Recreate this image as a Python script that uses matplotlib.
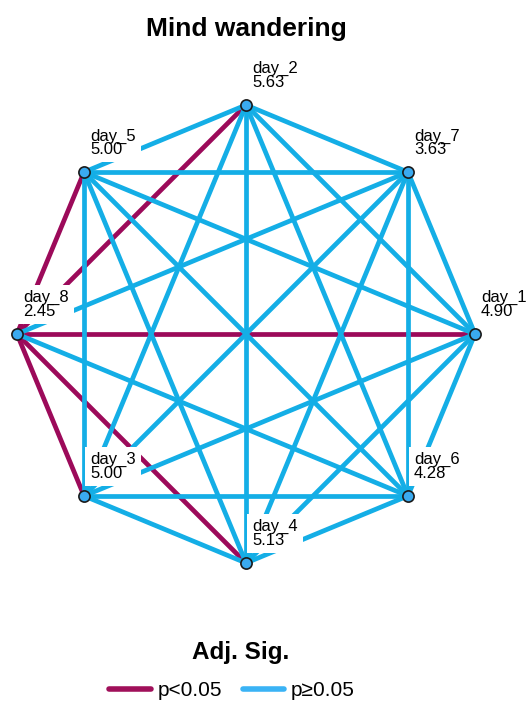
import numpy as np
import matplotlib
matplotlib.use("Agg")
import matplotlib.pyplot as plt
from matplotlib.lines import Line2D

plt.rcParams['font.family'] = ['Liberation Sans', 'DejaVu Sans']

# ----------------------------------------------------------
# Data
# ----------------------------------------------------------
days = ["day_2", "day_7", "day_1", "day_6", "day_4", "day_3", "day_8", "day_5"]
means = [5.63, 3.63, 4.90, 4.28, 5.13, 5.00, 2.45, 5.00]
sig_pairs = [("day_2", "day_8"), ("day_5", "day_8"), ("day_8", "day_1"),
             ("day_8", "day_3"), ("day_8", "day_4")]

RED = "#9C0A5A"
BLUE = "#14AEE6"

# ----------------------------------------------------------
# Layout: nodes on a regular octagon, day_2 at the top
# ----------------------------------------------------------
W, H = 529, 705
fig = plt.figure(figsize=(W / 100, H / 100), dpi=100)

cx, cy, r = 246, 334, 229
lim = 1.2
ax = fig.add_axes([(cx - lim * r) / W, 1 - (cy + lim * r) / H,
                   2 * lim * r / W, 2 * lim * r / H])
ax.set_xlim(-lim, lim)
ax.set_ylim(-lim, lim)
ax.axis("off")

angles = np.deg2rad(90 - 45 * np.arange(len(days)))
pos = {d: (np.cos(a), np.sin(a)) for d, a in zip(days, angles)}
sig = {frozenset(p) for p in sig_pairs}

# edges: significant ones first so the blue cross over them
edges = [(a, b) for i, a in enumerate(days) for b in days[i + 1:]]
for a, b in sorted(edges, key=lambda e: frozenset(e) not in sig):
    col = RED if frozenset((a, b)) in sig else BLUE
    ax.plot([pos[a][0], pos[b][0]], [pos[a][1], pos[b][1]],
            color=col, lw=3.4, solid_capstyle="butt", zorder=1)

# labels with white boxes
px = 1.0 / r
for d, m in zip(days, means):
    x, y = pos[d]
    ax.text(x + 6 * px, y + 15 * px, f"{d}\n{m:.2f}", fontsize=12,
            ha="left", va="bottom", linespacing=0.88, zorder=3,
            bbox=dict(boxstyle="square,pad=0.3", fc="white", ec="none"))

# nodes
xs = [pos[d][0] for d in days]
ys = [pos[d][1] for d in days]
ax.scatter(xs, ys, s=65, color="#3AAAF0", edgecolor="#1a1a1a",
           linewidth=1.2, zorder=4, clip_on=False)

fig.text(cx / W, 1 - 29 / H, "Mind wandering", fontsize=19,
         fontweight="bold", ha="center", va="center")

fig.text(241 / W, 1 - 653 / H, "Adj. Sig.", fontsize=17.5,
         fontweight="bold", ha="center", va="center")

handles = [Line2D([], [], color="#A0105A", lw=4, solid_capstyle="round"),
           Line2D([], [], color="#3AB3F5", lw=4, solid_capstyle="round")]
leg = fig.legend(handles, ["p<0.05", "p\u22650.05"], ncol=2,
                 loc="center", bbox_to_anchor=(232 / W, 1 - 690 / H),
                 frameon=False, fontsize=15,
                 handlelength=2.0, handletextpad=0.3, columnspacing=1.0,
                 handleheight=0.5, borderpad=0.2)

fig.savefig("out.png", dpi=100)
